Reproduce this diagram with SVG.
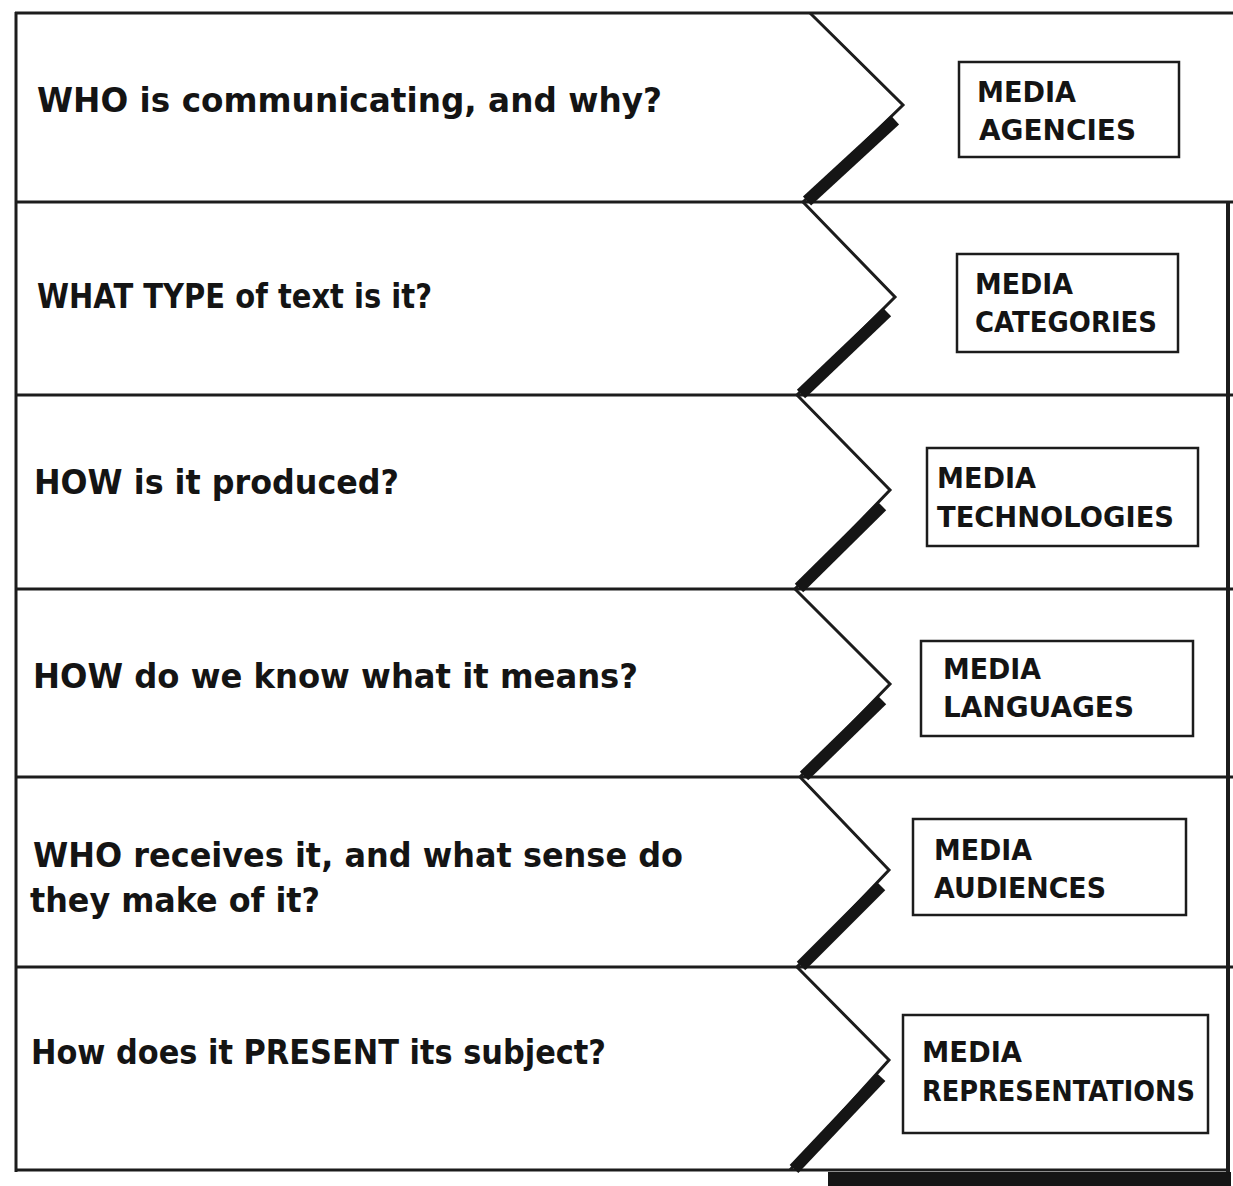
<svg xmlns="http://www.w3.org/2000/svg" width="1233" height="1186" viewBox="0 0 1233 1186">
<style>
.frame{stroke:#1c1c1c;stroke-width:3;fill:none}
.chev{stroke:#1c1c1c;stroke-width:3;fill:none;stroke-linejoin:miter}
.shadow{stroke:#151515;stroke-width:12;stroke-linecap:butt;fill:none}
.box rect{fill:#fff;stroke:#1c1c1c;stroke-width:2.5}
.q{font-family:"DejaVu Sans","Liberation Sans",sans-serif;font-weight:bold;font-size:33px;fill:#141414}
.b{font-family:"DejaVu Sans","Liberation Sans",sans-serif;font-weight:bold;font-size:28px;fill:#141414}
</style>
<rect width="1233" height="1186" fill="#fff"/>
<g id="frame">
  <line class="frame" x1="15" y1="13" x2="1233" y2="13"/>
  <line class="frame" x1="16" y1="12" x2="16" y2="1172"/>
  <line class="frame" x1="15" y1="202" x2="1233" y2="202"/>
  <line class="frame" x1="15" y1="395" x2="1233" y2="395"/>
  <line class="frame" x1="15" y1="589" x2="1233" y2="589"/>
  <line class="frame" x1="15" y1="777" x2="1233" y2="777"/>
  <line class="frame" x1="15" y1="967" x2="1233" y2="967"/>
  <line class="frame" x1="15" y1="1170" x2="1228" y2="1170"/>
  <line x1="1228" y1="202" x2="1228" y2="1186" stroke="#1c1c1c" stroke-width="4"/>
  <rect x="828" y="1172" width="403" height="14" fill="#151515"/>
</g>
<g id="connectors">
  <polyline class="chev" points="810,13 903,105 803,202"/>
  <line class="shadow" x1="895" y1="120" x2="807" y2="201"/>
  <polyline class="chev" points="803,202 895,297 797,395"/>
  <line class="shadow" x1="887" y1="312" x2="801" y2="394"/>
  <polyline class="chev" points="797,395 890,490 795,589"/>
  <line class="shadow" x1="882" y1="506" x2="799" y2="588"/>
  <polyline class="chev" points="795,589 890,684 800,777"/>
  <line class="shadow" x1="882" y1="700" x2="804" y2="776"/>
  <polyline class="chev" points="800,777 889,870 797,967"/>
  <line class="shadow" x1="881" y1="886" x2="801" y2="966"/>
  <polyline class="chev" points="797,967 889,1060 790,1170"/>
  <line class="shadow" x1="881" y1="1077" x2="794" y2="1169"/>
</g>
<g id="q1"><text class="q" x="37" y="112" textLength="625" lengthAdjust="spacingAndGlyphs">WHO is communicating, and why?</text></g>
<g id="q2"><text class="q" x="37" y="308" textLength="395" lengthAdjust="spacingAndGlyphs">WHAT TYPE of text is it?</text></g>
<g id="q3"><text class="q" x="34" y="494" textLength="365" lengthAdjust="spacingAndGlyphs">HOW is it produced?</text></g>
<g id="q4"><text class="q" x="33" y="688" textLength="605" lengthAdjust="spacingAndGlyphs">HOW do we know what it means?</text></g>
<g id="q5"><text class="q" x="33" y="867" textLength="650" lengthAdjust="spacingAndGlyphs">WHO receives it, and what sense do</text><text class="q" x="30" y="912" textLength="290" lengthAdjust="spacingAndGlyphs">they make of it?</text></g>
<g id="q6"><text class="q" x="31" y="1064" textLength="575" lengthAdjust="spacingAndGlyphs">How does it PRESENT its subject?</text></g>
<g id="n1" class="box"><rect x="959" y="62" width="220" height="95"/><text class="b" x="977" y="102" textLength="99" lengthAdjust="spacingAndGlyphs">MEDIA</text><text class="b" x="979" y="140" textLength="157" lengthAdjust="spacingAndGlyphs">AGENCIES</text></g>
<g id="n2" class="box"><rect x="957" y="254" width="221" height="98"/><text class="b" x="975" y="294" textLength="98" lengthAdjust="spacingAndGlyphs">MEDIA</text><text class="b" x="975" y="332" textLength="182" lengthAdjust="spacingAndGlyphs">CATEGORIES</text></g>
<g id="n3" class="box"><rect x="927" y="448" width="271" height="98"/><text class="b" x="937" y="488" textLength="99" lengthAdjust="spacingAndGlyphs">MEDIA</text><text class="b" x="937" y="527" textLength="237" lengthAdjust="spacingAndGlyphs">TECHNOLOGIES</text></g>
<g id="n4" class="box"><rect x="921" y="641" width="272" height="95"/><text class="b" x="943" y="679" textLength="98" lengthAdjust="spacingAndGlyphs">MEDIA</text><text class="b" x="943" y="717" textLength="191" lengthAdjust="spacingAndGlyphs">LANGUAGES</text></g>
<g id="n5" class="box"><rect x="913" y="819" width="273" height="96"/><text class="b" x="934" y="860" textLength="98" lengthAdjust="spacingAndGlyphs">MEDIA</text><text class="b" x="934" y="898" textLength="172" lengthAdjust="spacingAndGlyphs">AUDIENCES</text></g>
<g id="n6" class="box"><rect x="903" y="1015" width="305" height="118"/><text class="b" x="922" y="1062" textLength="100" lengthAdjust="spacingAndGlyphs">MEDIA</text><text class="b" x="922" y="1101" textLength="273" lengthAdjust="spacingAndGlyphs">REPRESENTATIONS</text></g>
</svg>
